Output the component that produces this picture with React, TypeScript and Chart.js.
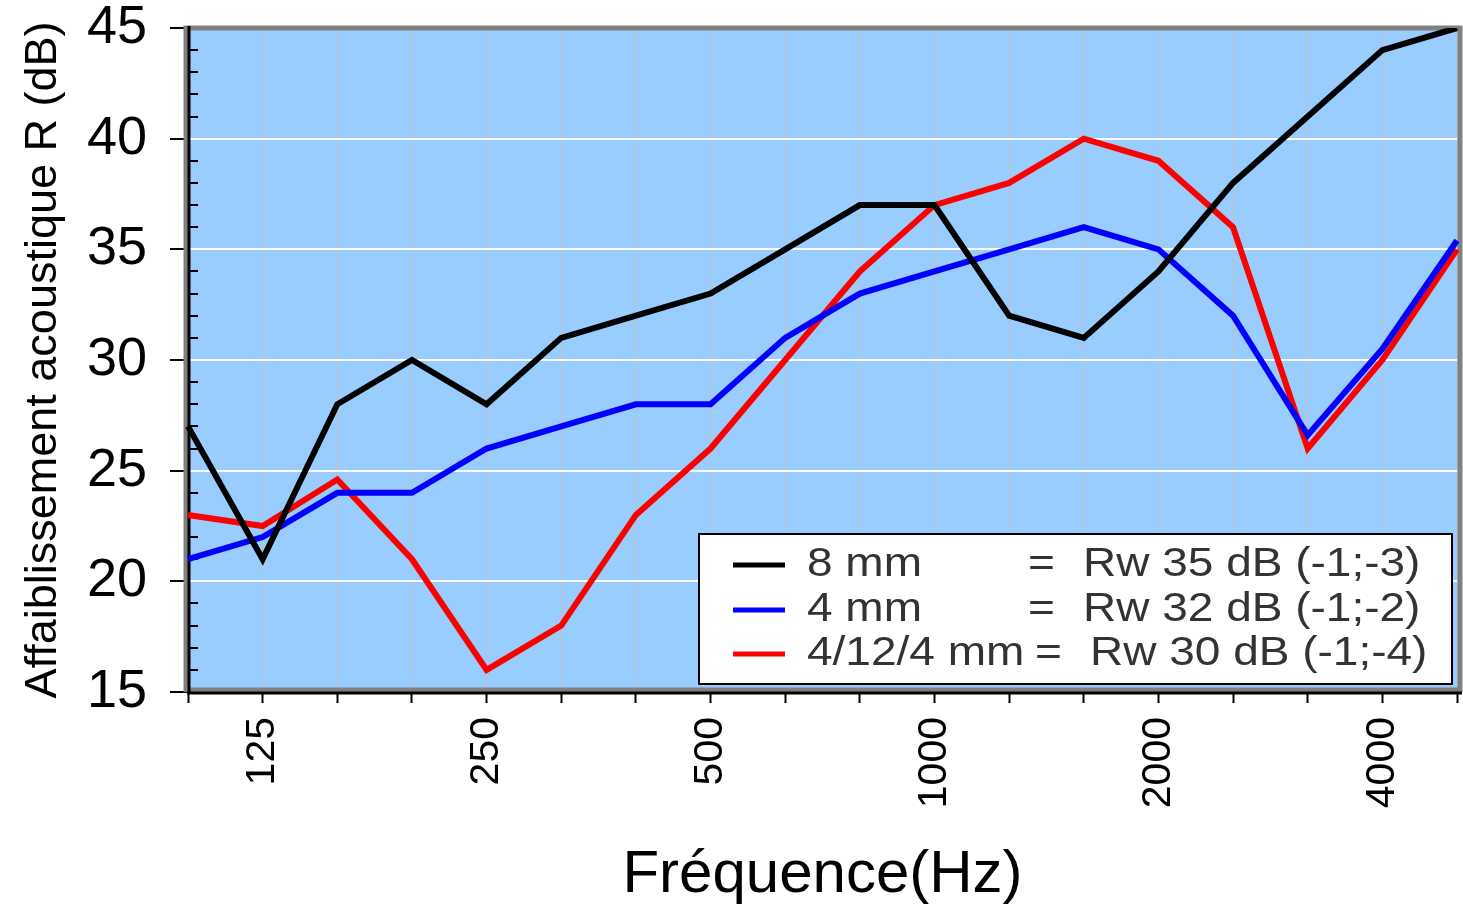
import React, { useEffect, useRef } from 'react';
import { Chart, registerables } from 'chart.js';

Chart.register(...registerables);

// ---- data ----
const frequencies = ['100', '125', '160', '200', '250', '315', '400', '500', '630', '800', '1000', '1250', '1600', '2000', '2500', '3150', '4000', '5000'];
const labeledFrequencies = ['125', '250', '500', '1000', '2000', '4000'];

const values8mm = [27, 21, 28, 30, 28, 31, 32, 33, 35, 37, 37, 32, 31, 34, 38, 41, 44, 45];
const values4mm = [21, 22, 24, 24, 26, 27, 28, 28, 31, 33, 34, 35, 36, 35, 32, 26.6, 30.5, 35.4];
const values4124mm = [23, 22.5, 24.6, 21, 16, 18, 23, 26, 30, 34, 37, 38, 40, 39, 36, 26, 30, 35];

const seriesNames = ['8 mm', '4 mm', '4/12/4 mm'];
const seriesRatings = ['Rw 35 dB (-1;-3)', 'Rw 32 dB (-1;-2)', 'Rw 30 dB (-1;-4)'];
const seriesColors = ['#000000', '#0000ff', '#ff0000'];

const yMin = 15;
const yMax = 45;
const yMajorStep = 5;
const yMinorStep = 1;

const xTitle = 'Fréquence(Hz)';
const yTitle = 'Affaiblissement acoustique R (dB)';

const FONT = "'Liberation Sans', Arial, sans-serif";

const plotBackground = {
  id: 'plotBackground',
  beforeDraw(chart: any) {
    const { ctx, chartArea: a } = chart;
    ctx.save();
    ctx.fillStyle = '#99ccff';
    ctx.fillRect(a.left, a.top, a.right - a.left, a.bottom - a.top);
    ctx.restore();
  },
};

const frame = {
  id: 'frame',
  beforeDatasetsDraw(chart: any) {
    const { ctx, chartArea: a } = chart;
    const y = chart.scales.y;
    ctx.save();
    // grey frame
    ctx.strokeStyle = '#808080';
    ctx.lineWidth = 5;
    ctx.beginPath();
    ctx.moveTo(a.left - 2, a.top);
    ctx.lineTo(a.right + 3, a.top);
    ctx.moveTo(a.right + 3, a.top - 2.5);
    ctx.lineTo(a.right + 3, a.bottom);
    ctx.moveTo(a.left - 2, a.top - 2.5);
    ctx.lineTo(a.left - 2, a.bottom);
    ctx.moveTo(a.left, a.bottom - 2);
    ctx.lineTo(a.right + 5, a.bottom - 2);
    ctx.stroke();
    // black axes
    ctx.strokeStyle = '#000';
    ctx.lineWidth = 3;
    ctx.beginPath();
    ctx.moveTo(a.left + 1, a.top - 2);
    ctx.lineTo(a.left + 1, a.bottom + 2.5);
    ctx.moveTo(a.left - 1, a.bottom + 1);
    ctx.lineTo(a.right + 5, a.bottom + 1);
    ctx.stroke();
    // minor ticks (inward)
    ctx.lineWidth = 2;
    ctx.beginPath();
    for (let v = yMin; v <= yMax; v += yMinorStep) {
      if (v % yMajorStep === 0) continue;
      const py = Math.round(y.getPixelForValue(v));
      ctx.moveTo(a.left + 2, py);
      ctx.lineTo(a.left + 10, py);
    }
    ctx.stroke();
    ctx.restore();
  },
};

const boxLegend = {
  id: 'boxLegend',
  afterDraw(chart: any) {
    const { ctx, chartArea: a } = chart;
    const bx = a.right - 758;
    const by = a.bottom - 158;
    const bw = 753;
    const bh = 150;
    ctx.save();
    ctx.fillStyle = '#fff';
    ctx.fillRect(bx, by, bw, bh);
    ctx.strokeStyle = '#000';
    ctx.lineWidth = 2;
    ctx.strokeRect(bx, by, bw, bh);
    const rowY = [by + 31, by + 76, by + 120];
    const extra = [0, 0, 7];
    ctx.font = `40px ${FONT}`;
    ctx.textBaseline = 'middle';
    ctx.textAlign = 'left';
    seriesNames.forEach((name, i) => {
      const ry = rowY[i];
      ctx.strokeStyle = seriesColors[i];
      ctx.lineWidth = 5;
      ctx.beginPath();
      ctx.moveTo(bx + 34, ry);
      ctx.lineTo(bx + 86, ry);
      ctx.stroke();
      ctx.fillStyle = '#333';
      const draw = (t: string, x: number) => {
        ctx.save();
        ctx.translate(x, ry);
        ctx.scale(1.15, 1);
        ctx.fillText(t, 0, 0);
        ctx.restore();
      };
      draw(name, bx + 108);
      draw('=', bx + 329 + extra[i]);
      draw(seriesRatings[i], bx + 384 + extra[i]);
    });
    ctx.restore();
  },
};

const zeroPadding = (scale: any) => {
  scale.paddingTop = 0;
  scale.paddingBottom = 0;
  scale.paddingLeft = 0;
  scale.paddingRight = 0;
};

export default function App() {
  const canvasRef = useRef<HTMLCanvasElement | null>(null);

  useEffect(() => {
    const canvas = canvasRef.current;
    if (!canvas) return;
    const datasets = [values8mm, values4mm, values4124mm].map((vals, i) => ({
      label: seriesNames[i],
      data: vals,
      borderColor: seriesColors[i],
      backgroundColor: seriesColors[i],
      borderWidth: 6,
      pointRadius: 0,
      tension: 0,
      fill: false,
    }));
    const chart = new Chart(canvas, {
      type: 'line',
      data: { labels: frequencies, datasets },
      plugins: [plotBackground, frame, boxLegend],
      options: {
        animation: false,
        responsive: false,
        devicePixelRatio: 1,
        layout: { padding: { top: 28, right: 6, left: 0, bottom: 0 } },
        plugins: {
          legend: { display: false },
          tooltip: { enabled: false },
        },
        scales: {
          x: {
            type: 'category',
            offset: false,
            grid: {
              color: '#c0c0c0',
              lineWidth: 1,
              tickColor: '#000',
              tickLength: 11,
              tickWidth: 2,
            },
            border: { display: false },
            ticks: {
              autoSkip: false,
              minRotation: 90,
              maxRotation: 90,
              padding: 14,
              color: '#000',
              font: { family: FONT, size: 41 },
              callback: (_v: any, idx: number) =>
                labeledFrequencies.includes(frequencies[idx]) ? frequencies[idx] : '',
            },
            title: {
              display: true,
              text: xTitle,
              color: '#000',
              font: { family: FONT, size: 60, lineHeight: 1 },
              padding: { top: 0, bottom: 3 },
            },
            afterFit: (scale: any) => {
              scale.height = 216;
              zeroPadding(scale);
            },
          },
          y: {
            min: yMin,
            max: yMax,
            grid: {
              color: '#ffffff',
              lineWidth: 2,
              tickColor: '#000',
              tickLength: 18,
              tickWidth: 2,
            },
            border: { display: false },
            ticks: {
              stepSize: yMajorStep,
              padding: 23,
              color: '#000',
              font: { family: FONT, size: 54 },
            },
            title: {
              display: true,
              text: yTitle,
              color: '#000',
              font: { family: FONT, size: 45, lineHeight: 1 },
              padding: { top: 21, bottom: 0 },
            },
            afterFit: (scale: any) => {
              scale.width = 188;
              zeroPadding(scale);
            },
          },
        },
      },
    } as any);
    return () => chart.destroy();
  }, []);

  return (
    <div style={{ position: 'fixed', left: 0, top: 0, width: 1463, height: 908, background: '#fff' }}>
      <canvas ref={canvasRef} width={1463} height={908} style={{ display: 'block', width: 1463, height: 908 }} />
    </div>
  );
}
